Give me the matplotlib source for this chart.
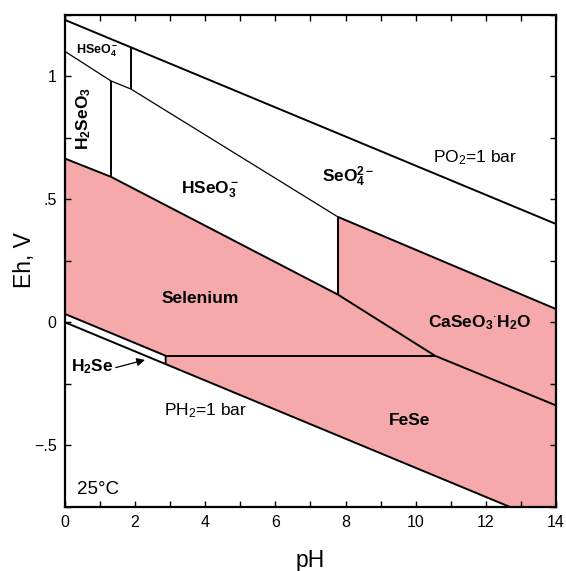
import matplotlib
matplotlib.use("Agg")
import matplotlib.pyplot as plt
from matplotlib.ticker import FixedLocator, FixedFormatter

plt.rcParams['font.family'] = ['Liberation Sans', 'DejaVu Sans']
plt.rcParams['mathtext.fontset'] = 'custom'
plt.rcParams['mathtext.rm'] = 'Liberation Sans'
plt.rcParams['mathtext.bf'] = 'Liberation Sans:bold'
plt.rcParams['mathtext.it'] = 'Liberation Sans:italic'

# ---- data (pH, Eh) ----
o2_ph = [0, 14]
o2_eh = [1.23, 0.40]
h2_ph = [0, 12.67]
h2_eh = [0.0, -0.75]

# upper aqueous boundary (H2SeO3/HSeO3- vs HSeO4-/SeO4 2-)
ox_ph = [0, 1.31, 1.88, 7.78]
ox_eh = [1.102, 0.982, 0.949, 0.429]
# SeO4 2- / CaSeO3.H2O
ca_top_ph = [7.78, 14]
ca_top_eh = [0.429, 0.054]

# Selenium upper boundary
se_top_ph = [0, 1.31, 7.78]
se_top_eh = [0.666, 0.592, 0.113]
# Se / CaSeO3 then FeSe / CaSeO3
se_ca_ph = [7.78, 10.55, 14]
se_ca_eh = [0.113, -0.136, -0.338]
# Se / FeSe horizontal
fese_top_ph = [2.87, 10.55]
fese_top_eh = [-0.136, -0.136]
# Se / H2Se
se_h2se_ph = [0, 2.87, 2.87]
se_h2se_eh = [0.034, -0.136, -0.170]

# verticals
v1_ph, v1_eh = [1.88, 1.88], [0.949, 1.119]
v2_ph, v2_eh = [1.31, 1.31], [0.982, 0.592]
v3_ph, v3_eh = [7.78, 7.78], [0.429, 0.113]

pink_ph = [0, 1.31, 7.78, 7.78, 14, 14, 12.67, 2.87, 2.87, 0]
pink_eh = [0.666, 0.592, 0.113, 0.429, 0.054, -0.75, -0.75, -0.170, -0.136, 0.034]

x_ticks = list(range(0, 15))
x_labels = [str(v) if v % 2 == 0 else '' for v in x_ticks]
y_ticks = [-0.75, -0.5, -0.25, 0, 0.25, 0.5, 0.75, 1.0, 1.25]
y_labels = ['', '\u2212.5', '', '0', '', '.5', '', '1', '']

fig = plt.figure(figsize=(5.66, 5.71), dpi=100)
ax = fig.add_axes([0.1148, 0.1126, 0.8675, 0.8611])
ax.set_xlim(0, 14)
ax.set_ylim(-0.75, 1.25)

ax.fill(pink_ph, pink_eh, color='#F5A9AB', lw=0, zorder=1)

lw = 1.4
for px, py, w in [(o2_ph, o2_eh, lw), (h2_ph, h2_eh, lw),
                  (ox_ph, ox_eh, 0.9), (ca_top_ph, ca_top_eh, lw),
                  (se_top_ph, se_top_eh, lw), (se_ca_ph, se_ca_eh, lw),
                  (fese_top_ph, fese_top_eh, lw), (se_h2se_ph, se_h2se_eh, lw),
                  (v1_ph, v1_eh, lw), (v2_ph, v2_eh, lw), (v3_ph, v3_eh, lw)]:
    ax.plot(px, py, color='black', lw=w, zorder=3, solid_capstyle='butt')

bf = dict(fontweight='bold', color='black', ha='center', va='center', zorder=4)
ax.text(0.91, 1.105, r'$\mathbf{HSeO_4^-}$', fontsize=9, **bf)
ax.text(0.54, 0.83, r'$\mathbf{H_2SeO_3}$', fontsize=12.5, rotation=90, **bf)
ax.text(4.13, 0.54, r'$\mathbf{HSeO_3^-}$', fontsize=12.5, **bf)
ax.text(8.07, 0.59, r'$\mathbf{SeO_4^{2-}}$', fontsize=12.5, **bf)
ax.text(3.85, 0.098, 'Selenium', fontsize=12.5, **bf)
ax.text(11.83, 0.0, r'$\mathbf{CaSeO_3{}^{\cdot}H_2O}$', fontsize=12.5, **bf)
ax.text(9.83, -0.40, 'FeSe', fontsize=12.5, **bf)
ax.text(0.77, -0.182, r'$\mathbf{H_2Se}$', fontsize=12.5, **bf)
ax.annotate('', xy=(2.28, -0.153), xytext=(1.45, -0.184),
            arrowprops=dict(arrowstyle='-|>', color='black', lw=0.9,
                            mutation_scale=12, shrinkA=0, shrinkB=0), zorder=4)

ax.text(11.68, 0.67, r'PO$_2$=1 bar', fontsize=12.5, ha='center', va='center')
ax.text(4.0, -0.36, r'PH$_2$=1 bar', fontsize=12.5, ha='center', va='center')
ax.text(0.93, -0.678, '25\u00b0C', fontsize=13.5, ha='center', va='center')

ax.xaxis.set_major_locator(FixedLocator(x_ticks))
ax.xaxis.set_major_formatter(FixedFormatter(x_labels))
ax.yaxis.set_major_locator(FixedLocator(y_ticks))
ax.yaxis.set_major_formatter(FixedFormatter(y_labels))
ax.tick_params(direction='in', length=4, width=1.0, top=True, right=True,
               labelsize=11.5, pad=6)

for s in ax.spines.values():
    s.set_linewidth(1.6)

fig.text(310.5 / 566, 1 - 560 / 571, 'pH', fontsize=16.5, ha='center', va='center')
fig.text(24.5 / 566, 1 - 260 / 571, 'Eh, V', fontsize=16.5, rotation=90,
         ha='center', va='center')

fig.savefig('out.png', dpi=100)
